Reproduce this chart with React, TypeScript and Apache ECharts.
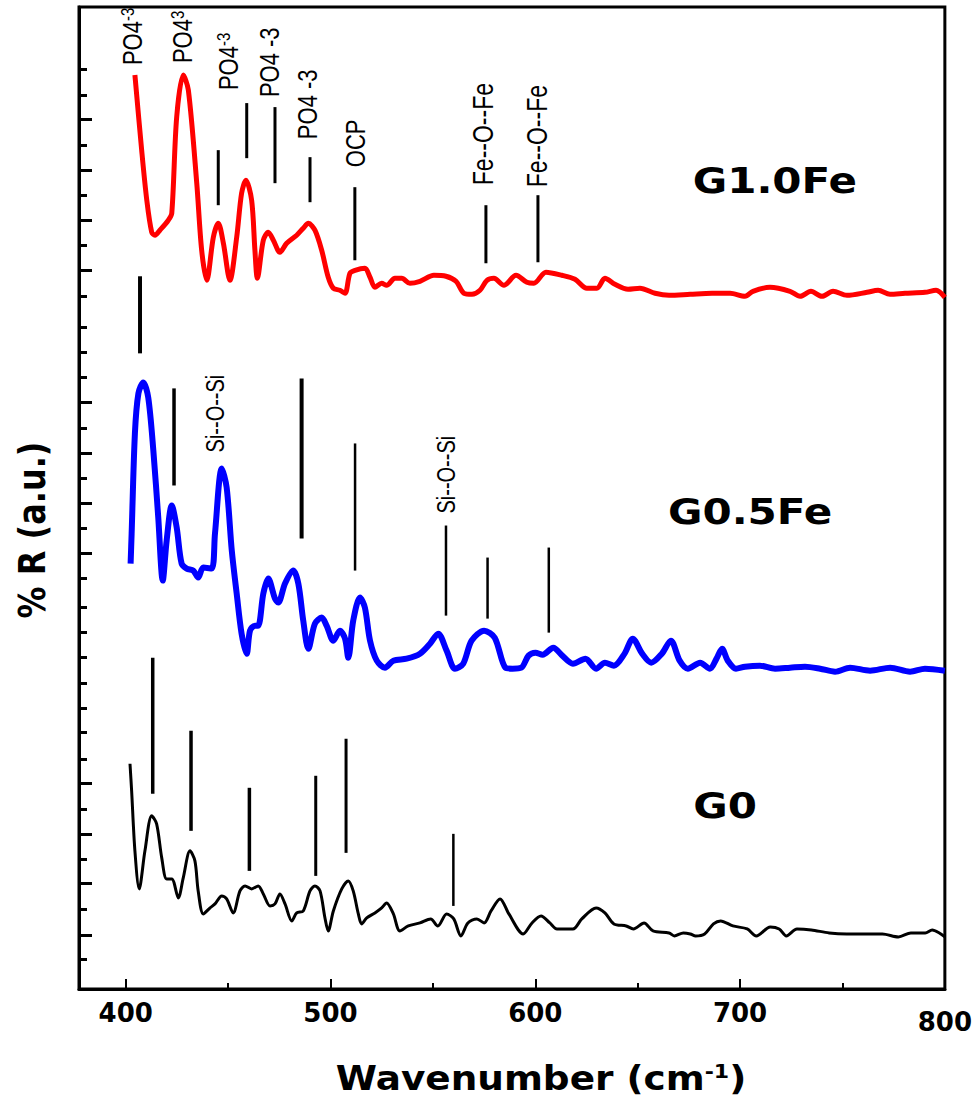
import React, { useEffect, useRef } from "react";
import * as echarts from "echarts";

// Series: [wavenumber (cm-1), %R (a.u., offset stacked)]
const g10Fe: [number, number][] = [
  [404.5, 91.3], [407.8, 83.8], [410.3, 78.8], [412.7, 75.6], [414.3, 75.3], [416.7, 75.8], [420.8, 76.8], [422.5, 77.5],
  [424.9, 87.1], [428.1, 91.3], [430.6, 89.8], [434.7, 80.5], [437.1, 73.8], [439.6, 70.8], [442.8, 75.1], [445.2, 76.5],
  [447.7, 74.5], [450.9, 70.8], [454.2, 75.1], [456.6, 79.5], [458.7, 80.8], [461.5, 78.8], [463.1, 73.8], [464.3, 71.0],
  [467.2, 74.8], [469.6, 75.6], [472.1, 74.8], [475.3, 73.6], [478.6, 74.5], [483.5, 75.3], [486.7, 76.0], [489.2, 76.5],
  [492.4, 75.8], [495.7, 73.8], [498.9, 71.1], [501.4, 70.0], [504.6, 69.8], [507.1, 69.5], [509.5, 71.5], [512.0, 71.8],
  [516.8, 72.0], [519.3, 71.1], [521.7, 70.1], [525.0, 70.5], [527.4, 70.3], [531.5, 71.0], [534.8, 71.0], [538.8, 70.5],
  [543.7, 70.7], [550.5, 71.3], [556.4, 71.2], [561.3, 70.7], [565.2, 69.5], [569.1, 69.4], [573.0, 69.8], [576.4, 70.8],
  [579.8, 71.0], [584.7, 70.3], [590.6, 71.3], [595.9, 70.6], [599.3, 70.5], [605.2, 71.6], [613.0, 71.3], [619.4, 70.9],
  [625.2, 70.0], [630.1, 70.0], [634.0, 71.0], [638.9, 70.4], [645.3, 69.9], [651.1, 70.0], [658.5, 69.5], [665.3, 69.3],
  [675.6, 69.4], [686.3, 69.5], [695.1, 69.5], [702.4, 69.2], [706.3, 69.7], [714.6, 70.1], [724.4, 69.7], [729.3, 69.2],
  [734.6, 69.7], [740.0, 69.2], [745.4, 69.7], [752.2, 69.3], [762.0, 69.6], [767.4, 69.8], [773.2, 69.4], [780.5, 69.5],
  [790.3, 69.6], [795.7, 69.8], [800.0, 69.1],
];

const g05Fe: [number, number][] = [
  [402.4, 42.5], [402.9, 45.5], [404.5, 55.5], [406.2, 59.5], [408.6, 60.6], [411.0, 59.1], [413.5, 53.8], [415.9, 47.1],
  [418.1, 40.8], [420.0, 44.8], [422.5, 48.3], [424.9, 46.1], [427.3, 42.5], [429.8, 42.0], [433.0, 41.8], [435.4, 41.1],
  [437.9, 42.1], [442.0, 42.0], [443.6, 45.5], [446.9, 52.0], [449.3, 50.1], [451.8, 43.8], [454.2, 39.5], [456.6, 35.5],
  [459.1, 33.5], [460.7, 35.8], [463.1, 36.3], [464.7, 36.3], [467.2, 39.5], [469.6, 41.0], [472.9, 39.0], [474.5, 38.6],
  [477.8, 40.5], [481.8, 41.8], [484.3, 40.5], [486.7, 36.8], [489.2, 34.0], [492.4, 36.5], [495.7, 37.1], [498.1, 36.3],
  [501.4, 34.8], [504.6, 35.8], [507.1, 35.0], [508.7, 33.1], [511.1, 36.8], [514.4, 39.1], [516.8, 38.1], [519.3, 34.8],
  [522.6, 32.8], [526.6, 32.1], [530.7, 32.8], [537.2, 33.0], [543.7, 33.5], [548.6, 34.5], [552.6, 35.5], [556.7, 33.8],
  [560.8, 32.0], [564.8, 32.5], [568.9, 34.8], [575.0, 35.8], [580.2, 35.1], [585.4, 32.1], [588.9, 32.0], [593.2, 32.1],
  [596.7, 33.3], [600.1, 33.6], [603.6, 33.4], [608.8, 34.1], [613.2, 33.3], [618.4, 32.5], [624.5, 33.0], [629.7, 32.0],
  [634.0, 32.6], [638.4, 32.3], [643.6, 33.5], [647.6, 35.0], [652.2, 33.5], [656.6, 32.6], [661.8, 33.5], [666.2, 34.8],
  [670.5, 32.8], [674.5, 32.0], [680.5, 32.6], [685.3, 32.0], [688.5, 33.0], [691.2, 34.0], [694.0, 32.8], [698.0, 32.0],
  [702.4, 32.2], [709.7, 32.3], [717.1, 32.0], [724.4, 32.1], [731.7, 32.2], [739.1, 32.0], [746.4, 31.7], [753.7, 32.1],
  [763.5, 31.8], [773.3, 32.1], [783.0, 31.7], [790.3, 32.0], [800.0, 31.8],
];

const g0: [number, number][] = [
  [402.1, 22.5], [402.9, 19.8], [404.5, 13.8], [406.6, 10.0], [409.4, 13.8], [412.7, 17.3], [415.1, 16.5], [417.6, 13.1],
  [420.0, 11.0], [422.5, 11.0], [425.7, 9.1], [428.1, 11.1], [431.4, 13.8], [433.8, 12.8], [435.4, 9.8], [437.9, 7.5],
  [441.2, 8.1], [443.6, 8.5], [446.9, 9.3], [449.3, 9.0], [452.5, 7.6], [455.8, 9.8], [458.3, 10.3], [461.5, 10.0],
  [464.7, 10.3], [467.2, 9.5], [470.5, 8.3], [472.9, 8.5], [475.3, 9.5], [477.8, 8.5], [481.1, 6.8], [483.5, 7.6],
  [486.7, 7.8], [490.0, 9.8], [492.4, 10.3], [494.9, 9.8], [497.3, 7.1], [498.9, 5.8], [501.4, 7.8], [505.5, 10.0],
  [508.7, 10.8], [511.1, 9.8], [513.6, 7.5], [515.2, 6.5], [517.7, 7.1], [521.7, 7.6], [525.0, 8.1], [527.4, 8.6],
  [530.7, 7.5], [533.9, 5.8], [538.0, 6.3], [543.7, 6.6], [548.9, 7.0], [552.4, 6.3], [556.7, 7.5], [560.2, 7.0],
  [563.7, 5.3], [567.1, 6.6], [571.5, 7.0], [575.0, 6.6], [578.4, 7.8], [582.8, 9.0], [587.1, 7.5], [594.1, 5.5],
  [598.4, 6.6], [602.8, 7.3], [607.1, 6.6], [610.6, 6.0], [618.4, 6.0], [622.7, 7.0], [629.7, 8.1], [634.0, 7.6],
  [638.4, 6.5], [644.4, 6.3], [647.9, 6.0], [653.1, 6.6], [657.5, 5.8], [665.3, 5.6], [667.9, 5.3], [672.3, 5.6],
  [675.7, 5.5], [678.3, 5.3], [682.7, 5.5], [687.0, 6.5], [690.5, 6.8], [696.5, 6.3], [703.5, 6.0], [707.9, 5.3],
  [714.8, 6.2], [719.1, 6.0], [722.6, 5.3], [727.8, 6.0], [734.8, 5.9], [743.5, 5.6], [752.1, 5.5], [760.8, 5.5],
  [769.5, 5.5], [777.3, 5.2], [783.4, 5.6], [790.4, 5.6], [793.8, 5.9], [797.3, 5.6], [800.0, 5.2],
];

// Peak marker bars: [wavenumber, top, bottom, weight]
const peakBars: [number, number, number, number][] = [
  [407.0, 71.2, 63.5, 4], [445.2, 83.8, 78.3, 3], [459.1, 88.5, 83.0, 3], [472.9, 88.1, 80.5, 3],
  [490.0, 83.1, 78.6, 3], [511.9, 80.1, 72.8, 3], [575.9, 78.3, 72.5, 3], [601.3, 79.3, 72.6, 3],
  [423.6, 60.0, 50.3, 3.5], [485.9, 61.0, 45.0, 4], [512.0, 54.5, 41.8, 2.5], [556.4, 46.3, 37.3, 2.5],
  [576.7, 43.1, 37.0, 2.5], [606.6, 44.1, 35.6, 2.5],
  [413.2, 33.1, 19.5, 3.5], [431.9, 25.8, 15.8, 3.5], [460.4, 20.1, 11.8, 3.5], [492.8, 21.3, 11.3, 3],
  [507.6, 25.0, 13.6, 3], [560.0, 15.5, 8.3, 2.5],
];

// Peak assignment labels (rotated): text, wavenumber, base value
const peakText = ["PO4|-3", "PO4|3", "PO4|-3", "PO4 -3", "PO4 -3", "OCP", "Fe--O--Fe", "Fe--O--Fe", "Si--O--Si", "Si--O--Si"];
const peakWn = [403.1, 427.5, 450.0, 470.0, 488.5, 511.9, 574.5, 600.8, 444.1, 556.9];
const peakBase = [92.3, 92.5, 89.8, 89.1, 84.9, 82.1, 80.3, 80.1, 53.6, 47.5];

const sampleNames = ["G1.0Fe", "G0.5Fe", "G0"];
const sampleWn = [717.0, 704.9, 692.7];
const sampleR = [80.7, 47.7, 18.3];

const xLabelValues = [400, 500, 600, 700, 800];
const xMinorValues = [450, 550, 650, 750];
const yLongTicks = [86.85, 81.8, 76.8, 71.8, 58.6, 53.55, 48.5, 43.55, 20.55, 15.5, 10.55, 5.4];
const yShortTicks = [91.9, 89.3, 84.3, 79.3, 74.25, 69.25, 66.15, 63.65, 61.1, 56.0, 51.0, 46.0, 41.0, 38.15, 35.6,
  33.1, 30.55, 28.05, 25.6, 23.0, 18.0, 13.0, 8.0, 3.0];

const SANS = "Liberation Sans, Arial, sans-serif";
const BOLD = "DejaVu Sans, sans-serif";

export default function App() {
  const ref = useRef<HTMLDivElement>(null);
  useEffect(() => {
    if (!ref.current) return;
    const chart = echarts.init(ref.current, undefined, { renderer: "svg" });
    const X_MIN = 377.2, X_MAX = 800, Y_MAX = 98.1;

    const labelText = (t: string) => {
      if (t.includes("|")) {
        const [a, b] = t.split("|");
        return `{m|${a}}{s|${b}}`;
      }
      return `{m|${t}}`;
    };
    const labelSize = (t: string) => (t.startsWith("Fe") ? 23 : t.startsWith("Si") ? 20 : 22);

    chart.setOption({
      animation: false,
      grid: { left: 79, right: 30, top: 7, bottom: 113, show: true, borderColor: "#000", borderWidth: 3 },
      xAxis: [
        {
          type: "value", min: X_MIN, max: X_MAX,
          axisLine: { lineStyle: { color: "#000", width: 3 } },
          axisTick: { show: true, inside: true, length: 10, lineStyle: { color: "#000", width: 2 }, customValues: xLabelValues },
          axisLabel: {
            customValues: xLabelValues, color: "#000", fontSize: 26, fontWeight: "bold", fontFamily: BOLD, margin: 11,
            formatter: (v: number) => (v === 800 ? `{low|${v}}` : `${v}`),
            rich: { low: { fontSize: 26, fontWeight: "bold", fontFamily: BOLD, color: "#000", padding: [9, 0, 0, 0] } },
          },
          splitLine: { show: false },
        },
        {
          type: "value", min: X_MIN, max: X_MAX, position: "bottom",
          axisLine: { show: false },
          axisTick: { show: true, inside: true, length: 6, lineStyle: { color: "#000", width: 2 }, customValues: xMinorValues },
          axisLabel: { show: false },
          splitLine: { show: false },
        },
      ],
      yAxis: [
        {
          type: "value", min: 0, max: Y_MAX,
          axisLine: { show: true, lineStyle: { color: "#000", width: 3 } },
          axisTick: { show: true, inside: true, length: 13, lineStyle: { color: "#000", width: 3 }, customValues: yLongTicks },
          axisLabel: { show: false },
          splitLine: { show: false },
        },
        {
          type: "value", min: 0, max: Y_MAX, position: "left",
          axisLine: { show: false },
          axisTick: { show: true, inside: true, length: 8, lineStyle: { color: "#000", width: 3 }, customValues: yShortTicks },
          axisLabel: { show: false },
          splitLine: { show: false },
        },
      ],
      series: [
        { type: "line", name: "G1.0Fe", data: g10Fe, showSymbol: false, smooth: 0.3, lineStyle: { color: "#ff0000", width: 5 } },
        { type: "line", name: "G0.5Fe", data: g05Fe, showSymbol: false, smooth: 0.3, lineStyle: { color: "#0000ff", width: 6 } },
        { type: "line", name: "G0", data: g0, showSymbol: false, smooth: 0.3, lineStyle: { color: "#000000", width: 3 } },
        {
          type: "custom", clip: false, silent: true,
          data: peakBars,
          renderItem: (_p: any, api: any) => {
            const a = api.coord([api.value(0), api.value(1)]);
            const b = api.coord([api.value(0), api.value(2)]);
            return { type: "line", shape: { x1: a[0], y1: a[1], x2: b[0], y2: b[1] }, style: { stroke: "#000", lineWidth: api.value(3) } };
          },
        },
        {
          type: "custom", clip: false, silent: true,
          data: peakWn.map((w, i) => [w, peakBase[i]]),
          renderItem: (p: any, api: any) => {
            const t = peakText[p.dataIndex];
            const c = api.coord([api.value(0), api.value(1)]);
            const fs = labelSize(t);
            return {
              type: "text", x: c[0], y: c[1], rotation: Math.PI / 2, scaleY: 1.25,
              style: {
                text: labelText(t), align: "left", verticalAlign: "middle",
                rich: {
                  m: { fontSize: fs, fontFamily: SANS, fill: "#000" },
                  s: { fontSize: 15, fontFamily: SANS, fill: "#000", verticalAlign: "top" },
                },
              },
            };
          },
        },
        {
          type: "custom", clip: false, silent: true,
          data: sampleWn.map((w, i) => [w, sampleR[i]]),
          renderItem: (p: any, api: any) => {
            const c = api.coord([api.value(0), api.value(1)]);
            return {
              type: "text", x: c[0], y: c[1], scaleX: 1.2,
              style: { text: sampleNames[p.dataIndex], align: "center", verticalAlign: "middle", fontSize: 35, fontWeight: "bold", fontFamily: BOLD, fill: "#000" },
            };
          },
        },
      ],
      graphic: [
        {
          type: "text", x: 541, y: 1078, scaleX: 1.1,
          style: {
            text: "{t|Wavenumber (cm}{s|-1}{t|)}", align: "center", verticalAlign: "middle",
            rich: {
              t: { fontSize: 34, fontWeight: "bold", fontFamily: BOLD, fill: "#000" },
              s: { fontSize: 20, fontWeight: "bold", fontFamily: BOLD, fill: "#000", verticalAlign: "top" },
            },
          },
        },
        {
          type: "text", x: 32, y: 530, rotation: Math.PI / 2, scaleY: 1.15,
          style: { text: "% R (a.u.)", align: "center", verticalAlign: "middle", fontSize: 32, fontWeight: "bold", fontFamily: BOLD, fill: "#000" },
        },
      ],
    });
    return () => chart.dispose();
  }, []);
  return <div ref={ref} style={{ position: "absolute", left: 0, top: 0, width: 975, height: 1102, background: "#fff" }} />;
}
